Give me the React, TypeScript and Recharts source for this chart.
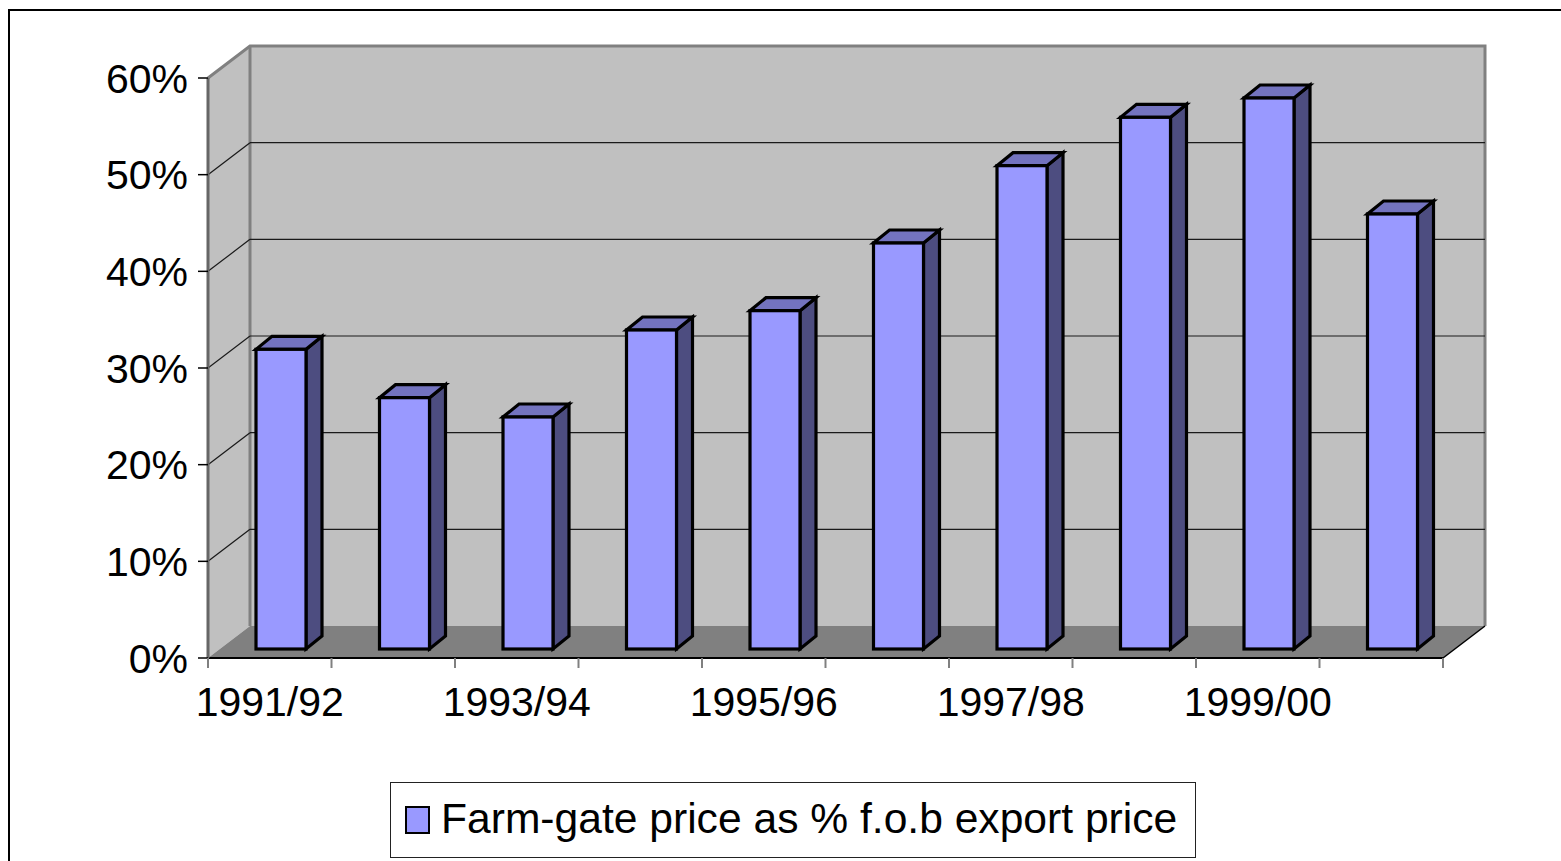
import { BarChart, Bar, XAxis, YAxis, CartesianGrid, Legend } from "recharts";

// data
const YEARS = [
  "1991/92", "1992/93", "1993/94", "1994/95", "1995/96",
  "1996/97", "1997/98", "1998/99", "1999/00", "2000/01",
];
const SHARE = [31, 26, 24, 33, 35, 42, 50, 55, 57, 45];
const Y_TICKS = [0, 10, 20, 30, 40, 50, 60];
const SERIES_NAME = "Farm-gate price as % f.o.b export price";

const rows = YEARS.map((year, i) => ({ year, share: SHARE[i] }));

// layout
const W = 1561;
const H = 861;
const PLOT_LEFT = 208;
const PLOT_RIGHT = 1443;
const PLOT_TOP = 78;
const PLOT_BOTTOM = 658;
const DX = 42; // depth of the box
const DY = -32;
const BAR_DX = 11; // bars sit a bit back from the front plane
const BAR_DY = -9;
const BAR_DEPTH_X = 16;
const BAR_DEPTH_Y = -13;
const FONT = "'Liberation Sans', Arial, sans-serif";
const AXIS_FONT = 41;

const WALL = "#c0c0c0";
const FLOOR = "#808080";
const FRONT = "#9999ff";
const TOP = "#7373bf";
const SIDE = "#4d4d80";

function Bar3D(props: any) {
  const { x, y, width, height } = props;
  if (width == null || height == null) return null;
  const fx = x + BAR_DX;
  const fy = y + BAR_DY;
  const fb = y + height + BAR_DY;
  const r = fx + width;
  return (
    <g strokeLinejoin="miter" stroke="#000" strokeWidth={3.2}>
      <polygon
        points={`${r},${fy} ${r + BAR_DEPTH_X},${fy + BAR_DEPTH_Y} ${r + BAR_DEPTH_X},${fb + BAR_DEPTH_Y} ${r},${fb}`}
        fill={SIDE}
      />
      <polygon
        points={`${fx},${fy} ${r},${fy} ${r + BAR_DEPTH_X},${fy + BAR_DEPTH_Y} ${fx + BAR_DEPTH_X},${fy + BAR_DEPTH_Y}`}
        fill={TOP}
      />
      <rect x={fx} y={fy} width={width} height={fb - fy} fill={FRONT} />
    </g>
  );
}

function gridLine(p: any) {
  const { x1, y1, x2, index } = p;
  if (Math.abs(y1 - PLOT_TOP) < 1 || Math.abs(y1 - PLOT_BOTTOM) < 1) {
    return <g key={`gl-${index}`} />;
  }
  return (
    <g key={`gl-${index}`} stroke="#1a1a1a" strokeWidth={1.2}>
      <line x1={x1} y1={y1} x2={x1 + DX} y2={y1 + DY} />
      <line x1={x1 + DX} y1={y1 + DY} x2={x2 + DX} y2={y1 + DY} />
    </g>
  );
}

function YearTick(props: any) {
  const { x, y, payload } = props;
  const half = payload?.offset || (PLOT_RIGHT - PLOT_LEFT) / YEARS.length / 2;
  const idx = payload?.index ?? YEARS.indexOf(payload?.value);
  return (
    <g>
      <line x1={x - half} y1={y - 10} x2={x - half} y2={y} stroke="#808080" strokeWidth={2} />
      {idx === YEARS.length - 1 && (
        <line x1={x + half} y1={y - 10} x2={x + half} y2={y} stroke="#808080" strokeWidth={2} />
      )}
      {idx % 2 === 0 && (
        <text x={x} y={y + 48} textAnchor="middle" fontFamily={FONT} fontSize={AXIS_FONT} fill="#000">
          {payload.value}
        </text>
      )}
    </g>
  );
}

function LegendBox(props: any) {
  const item = props.payload?.[0];
  return (
    <div
      style={{
        width: 806,
        height: 76,
        boxSizing: "border-box",
        border: "1px solid #222",
        display: "flex",
        alignItems: "center",
        fontFamily: FONT,
        fontSize: 42.6,
        color: "#000",
        background: "#fff",
      }}
    >
      <span
        style={{
          display: "inline-block",
          width: 25,
          height: 28,
          marginLeft: 14,
          boxSizing: "border-box",
          background: item?.color ?? FRONT,
          border: "2px solid #000",
        }}
      />
      <span style={{ marginLeft: 11, marginTop: -4, whiteSpace: "nowrap" }}>{item?.value ?? SERIES_NAME}</span>
    </div>
  );
}

export default function App() {
  const bx = PLOT_LEFT + DX;
  const by = PLOT_TOP + DY;
  const bb = PLOT_BOTTOM + DY;
  const br = PLOT_RIGHT + DX;
  return (
    <div style={{ position: "absolute", left: 0, top: 0, width: W, height: H, background: "#fff" }}>
      {/* the box behind the bars: back wall, side wall, floor */}
      <svg width={W} height={H} style={{ position: "absolute", left: 0, top: 0 }}>
        <path d={`M9,${H} V10 H${W}`} fill="none" stroke="#000" strokeWidth={2} />
        <rect x={bx} y={by} width={br - bx} height={bb - by} fill={WALL} />
        <polygon
          points={`${PLOT_LEFT},${PLOT_TOP} ${bx},${by} ${bx},${bb} ${PLOT_LEFT},${PLOT_BOTTOM}`}
          fill={WALL}
        />
        <polygon
          points={`${PLOT_LEFT},${PLOT_BOTTOM} ${PLOT_RIGHT},${PLOT_BOTTOM} ${br},${bb} ${bx},${bb}`}
          fill={FLOOR}
        />
        <g stroke="#808080" strokeWidth={3} fill="none">
          <path d={`M${PLOT_LEFT},${PLOT_TOP} L${bx},${by} H${br} V${bb}`} />
          <line x1={bx} y1={by} x2={bx} y2={bb} />
        </g>
        <line x1={PLOT_RIGHT} y1={PLOT_BOTTOM} x2={br} y2={bb} stroke="#000" strokeWidth={1.5} />
      </svg>
      <div style={{ position: "absolute", left: 0, top: 0 }}>
        <BarChart
          width={W}
          height={H}
          data={rows}
          margin={{ top: PLOT_TOP, right: W - PLOT_RIGHT, bottom: H - PLOT_BOTTOM - 60, left: PLOT_LEFT - 100 }}
          barCategoryGap={0}
        >
          <CartesianGrid vertical={false} horizontal={gridLine} />
          <XAxis
            dataKey="year"
            interval={0}
            height={60}
            tickLine={false}
            tickSize={10}
            tickMargin={0}
            axisLine={{ stroke: "#000", strokeWidth: 2 }}
            tick={<YearTick />}
          />
          <YAxis
            width={100}
            domain={[0, 60]}
            ticks={Y_TICKS}
            interval={0}
            tickFormatter={(v: number) => `${v}%`}
            tickSize={10}
            tickMargin={10}
            tickLine={{ stroke: "#000", strokeWidth: 1.5 }}
            axisLine={{ stroke: "#666", strokeWidth: 3 }}
            tick={{ fontFamily: FONT, fontSize: AXIS_FONT, fill: "#000" }}
          />
          <Legend
            layout="horizontal"
            verticalAlign="middle"
            align="center"
            wrapperStyle={{ left: 390, top: 782, width: 806 }}
            content={<LegendBox />}
          />
          <Bar
            dataKey="share"
            name={SERIES_NAME}
            fill={FRONT}
            barSize={50}
            shape={Bar3D}
            isAnimationActive={false}
          />
        </BarChart>
      </div>
    </div>
  );
}
